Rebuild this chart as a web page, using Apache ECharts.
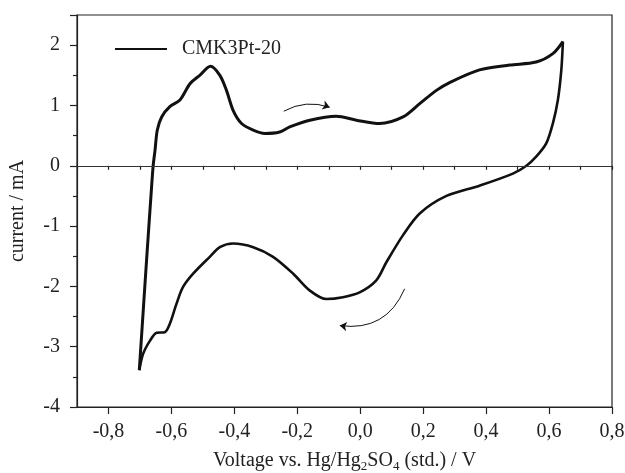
<!DOCTYPE html>
<html>
<head>
<meta charset="utf-8">
<script src="https://cdn.jsdelivr.net/npm/echarts@6/dist/echarts.min.js"></script>
<style>
  html, body { margin: 0; padding: 0; background: #fff; }
  #chart { width: 625px; height: 473px; }
</style>
</head>
<body>
<div id="chart"></div>
<script>
// anodic sweep (from -0.7 V up to 0.65 V)
var anodicV = [-0.702, -0.679, -0.663, -0.658, -0.652, -0.645, -0.631, -0.605, -0.573, -0.541, -0.510, -0.476,
  -0.446, -0.425, -0.404, -0.377, -0.340, -0.303, -0.256, -0.224, -0.160, -0.076, -0.012, 0.062, 0.136,
  0.189, 0.242, 0.284, 0.379, 0.475, 0.559, 0.612, 0.644];
var anodicI = [-3.39, -1.57, -0.35, 0.00, 0.26, 0.59, 0.81, 0.98, 1.09, 1.36, 1.50, 1.65,
  1.50, 1.25, 0.92, 0.70, 0.59, 0.535, 0.56, 0.645, 0.756, 0.82, 0.756, 0.70, 0.81,
  1.03, 1.25, 1.38, 1.59, 1.67, 1.72, 1.86, 2.06];

// cathodic sweep (back from 0.65 V to -0.7 V)
var cathodicV = [0.644, 0.639, 0.628, 0.612, 0.591, 0.559, 0.528, 0.485, 0.379, 0.274, 0.189, 0.136, 0.083,
  0.051, -0.002, -0.055, -0.107, -0.160, -0.213, -0.277, -0.340, -0.404, -0.446, -0.478, -0.531, -0.563,
  -0.584, -0.605, -0.621, -0.647, -0.668, -0.690, -0.702];
var cathodicI = [2.06, 1.59, 1.09, 0.70, 0.37, 0.15, 0.00, -0.13, -0.33, -0.50, -0.79, -1.15, -1.60,
  -1.90, -2.10, -2.18, -2.21, -2.07, -1.79, -1.51, -1.35, -1.29, -1.35, -1.51, -1.79, -2.01,
  -2.29, -2.62, -2.76, -2.77, -2.90, -3.12, -3.39];

// sweep direction arrows: start, end (curved)
var arrowUp = [[-0.243, 0.905], [-0.097, 0.97]];
var arrowDown = [[0.141, -2.04], [-0.065, -2.65]];

var xRange = [-0.9, 0.8];
var xTickValues = [-0.8, -0.6, -0.4, -0.2, 0.0, 0.2, 0.4, 0.6, 0.8];
var yRange = [-4, 2.5];
var seriesName = 'CMK3Pt-20';

var font = 'Liberation Serif';
var ink = '#222';

function pairs(xs, ys) {
  var out = [];
  for (var i = 0; i < xs.length; i++) {
    out.push([xs[i], ys[i]]);
  }
  return out;
}

var chart = echarts.init(document.getElementById('chart'));

var option = {
  backgroundColor: '#fff',
  animation: false,
  grid: {
    left: 77, right: 13, top: 15, bottom: 66,
    outerBoundsMode: 'none',
    show: true, borderColor: ink, borderWidth: 1.2
  },
  legend: {
    data: [seriesName],
    left: 110, top: 34,
    icon: 'rect',
    itemWidth: 52, itemHeight: 2,
    textStyle: { fontFamily: font, fontSize: 20, color: ink, padding: [0, 0, 0, 10] }
  },
  xAxis: [{
    type: 'value',
    min: xRange[0], max: xRange[1],
    splitLine: { show: false },
    axisLine: { onZero: false, lineStyle: { color: ink, width: 1.2 } },
    axisTick: { customValues: xTickValues, length: 7, lineStyle: { color: ink, width: 1.2 } },
    axisLabel: {
      customValues: xTickValues,
      fontFamily: font, fontSize: 20, color: ink, margin: 15,
      formatter: function (v) {
        return v.toFixed(1).replace('.', ',').replace('-0,0', '0,0');
      }
    },
    name: 'Voltage vs. Hg/Hg{s|2}SO{s|4} (std.) / V',
    nameLocation: 'middle',
    nameGap: 41,
    nameTextStyle: {
      fontFamily: font, fontSize: 20, color: ink,
      rich: {
        s: { fontFamily: font, fontSize: 13, color: ink, padding: [12, 0, 0, 0] }
      }
    }
  }, {
    // minor ticks every 0.1 V
    type: 'value',
    position: 'bottom',
    min: xRange[0], max: xRange[1], interval: 0.1,
    splitLine: { show: false },
    axisLine: { show: false },
    axisTick: { length: 4, lineStyle: { color: ink, width: 1.2 } },
    axisLabel: { show: false }
  }],
  yAxis: {
    type: 'value',
    min: yRange[0], max: yRange[1], interval: 1,
    splitLine: { show: false },
    axisLine: { onZero: false, lineStyle: { color: ink, width: 1.2 } },
    axisTick: { length: 7, lineStyle: { color: ink, width: 1.2 } },
    minorTick: { show: true, splitNumber: 2, length: 4, lineStyle: { color: ink, width: 1.2 } },
    axisLabel: {
      fontFamily: font, fontSize: 20, color: ink, margin: 17,
      showMaxLabel: false
    },
    name: 'current / mA',
    nameLocation: 'middle',
    nameGap: 49,
    nameTextStyle: { fontFamily: font, fontSize: 20, color: ink }
  },
  series: [
    {
      name: seriesName,
      type: 'line',
      data: pairs(anodicV, anodicI),
      smooth: 0.3,
      symbol: 'none',
      lineStyle: { color: '#111', width: 3 },
      itemStyle: { color: '#111' },
      markLine: {
        silent: true,
        symbol: 'none',
        label: { show: false },
        lineStyle: { color: '#333', width: 1.2, type: 'solid' },
        data: [{ yAxis: 0 }]
      },
      z: 3
    },
    {
      name: seriesName,
      type: 'line',
      data: pairs(cathodicV, cathodicI),
      smooth: 0.3,
      symbol: 'none',
      lineStyle: { color: '#111', width: 2.6 },
      z: 3
    },
    {
      type: 'lines',
      coordinateSystem: 'cartesian2d',
      silent: true,
      symbol: ['none', 'arrow'],
      symbolSize: 7,
      lineStyle: { color: '#111', width: 1, opacity: 1 },
      data: [
        { coords: arrowUp, lineStyle: { curveness: 0.22 } },
        { coords: arrowDown, lineStyle: { curveness: 0.38 } }
      ],
      z: 4
    }
  ]
};

chart.setOption(option);
</script>
</body>
</html>
